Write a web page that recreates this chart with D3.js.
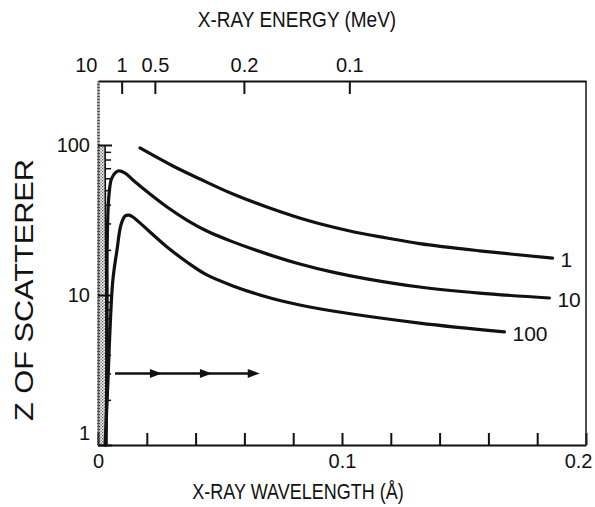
<!DOCTYPE html>
<html><head><meta charset="utf-8">
<script src="https://cdn.jsdelivr.net/npm/d3@7"></script>
<style>
html,body{margin:0;padding:0;background:#fff;}
svg{display:block;}
text{font-family:"Liberation Sans", Arial, Helvetica, sans-serif; fill:#111;}
</style></head><body>
<svg id="chart" width="595" height="507"></svg>
<script>
// ---------- data ----------
const bottomTickValues = [0, 0.02, 0.04, 0.06, 0.08, 0.1, 0.12, 0.14, 0.16, 0.18, 0.2];
const bottomLabelled = [0, 0.1, 0.2];
const leftTickValues = [1, 10, 100];
const leftMinorTicks = [2, 3, 4, 5, 6, 7, 8, 9, 20, 30, 40, 50, 60, 70, 80, 90];
const topTickLabels = ["10", "1", "0.5", "0.2", "0.1"];           // MeV
const topTickWavelengths = [0, 0.0097, 0.0233, 0.0598, 0.103];     // Å, as drawn

const curveNames = ["1", "10", "100"];
const curve1Lambda = [0.0172, 0.0307, 0.0418, 0.0553, 0.0692, 0.0868, 0.1032, 0.1183, 0.1318, 0.1564, 0.1863];
const curve1Z      = [95.5, 72.4, 59.3, 47.1, 38.6, 31.1, 26.7, 24.0, 22.0, 19.7, 17.6];
const curve10Lambda = [0.0033, 0.0037, 0.0038, 0.0045, 0.0057, 0.0082, 0.0111, 0.0143, 0.0213, 0.0283, 0.0364, 0.0446, 0.0553, 0.0692, 0.0827, 0.0962, 0.1101, 0.1318, 0.1564, 0.1850];
const curve10Z      = [1.0, 5.8, 23.3, 46.4, 60.3, 67.1, 65.0, 58.4, 47.1, 38.6, 31.6, 26.7, 22.6, 18.8, 16.1, 14.2, 12.8, 11.3, 10.3, 9.55];
const curve100Lambda = [0.0029, 0.0041, 0.0049, 0.0061, 0.0078, 0.0094, 0.0111, 0.0127, 0.0143, 0.0213, 0.0283, 0.0364, 0.0446, 0.0553, 0.0692, 0.0827, 0.0962, 0.1318, 0.1666];
const curve100Z      = [1.0, 2.7, 5.8, 12.6, 20.0, 29.3, 33.6, 34.1, 33.1, 26.3, 20.9, 16.6, 13.6, 11.5, 9.7, 8.58, 7.82, 6.5, 5.67];

const arrowZ = 3;
const arrowStart = 0.007;
const arrowHeads = [0.0262, 0.0467, 0.0663];
const bandLambda = 0.0029;   // shaded strip near zero wavelength
const bandTopZ = 100;

// ---------- scales ----------
const svg = d3.select("#chart");
const x = d3.scaleLinear().domain([0, 0.2]).range([98, 586]);
const y = d3.scaleLog().domain([1, 267]).range([445, 81]);
const xTop = d3.scaleLinear().domain([0, 0.2]).range([98, 586]);

// hatched pattern
const defs = svg.append("defs");
const pat = defs.append("pattern").attr("id", "hatch").attr("patternUnits", "userSpaceOnUse")
  .attr("width", 3).attr("height", 3);
pat.append("rect").attr("width", 3).attr("height", 3).attr("fill", "#fff");
pat.append("rect").attr("x", 0).attr("y", 0).attr("width", 1.3).attr("height", 1.3).attr("fill", "#555");
pat.append("rect").attr("x", 1.5).attr("y", 1.5).attr("width", 1.3).attr("height", 1.3).attr("fill", "#555");

// band
svg.append("rect")
  .attr("x", x(0)).attr("y", y(bandTopZ))
  .attr("width", x(bandLambda) - x(0)).attr("height", y(1) - y(bandTopZ))
  .attr("fill", "url(#hatch)");
svg.append("line")
  .attr("x1", x(bandLambda)).attr("x2", x(bandLambda + 0.0006))
  .attr("y1", y(bandTopZ)).attr("y2", y(1))
  .attr("stroke", "#111").attr("stroke-width", 1.6);

// minor ticks on left
svg.append("g").attr("transform", `translate(${x(bandLambda)},0)`)
  .call(d3.axisLeft(y).tickValues(leftMinorTicks).tickSizeInner(-6).tickSizeOuter(0).tickFormat(""))
  .call(g => g.select(".domain").remove())
  .call(g => g.selectAll("line").attr("stroke", "#111").attr("stroke-width", 1.5));

// bottom axis
svg.append("g").attr("transform", `translate(0,${y(1)})`)
  .call(d3.axisBottom(x).tickValues(bottomTickValues).tickSizeInner(-12).tickSizeOuter(0).tickPadding(9)
    .tickFormat(d => bottomLabelled.some(v => Math.abs(v - d) < 1e-9) ? (d === 0 ? "0" : d3.format(".1f")(d)) : ""))
  .call(g => g.select(".domain").attr("stroke", "#111").attr("stroke-width", 2.2))
  .call(g => g.selectAll("line").attr("stroke", "#111").attr("stroke-width", 2))
  .call(g => g.selectAll(".tick").filter(d => Math.abs(d - 0.2) < 1e-9).select("text")
    .attr("text-anchor", "end").attr("dx", "0.3em"))
  .call(g => g.selectAll("text").style("font-size", "20px").attr("fill", "#111"));

// top axis
svg.append("g").attr("transform", `translate(0,${y.range()[1]})`)
  .call(d3.axisTop(xTop).tickValues(topTickWavelengths).tickSizeInner(-13).tickSizeOuter(0).tickPadding(9)
    .tickFormat((d, i) => topTickLabels[i]))
  .call(g => g.select(".domain").attr("stroke", "#111").attr("stroke-width", 2.2))
  .call(g => g.selectAll(".tick line").attr("stroke", "#111").attr("stroke-width", 2))
  .call(g => g.selectAll(".tick").filter((d, i) => i === 0).select("line").remove())
  .call(g => g.selectAll(".tick").filter((d, i) => i === 0).select("text").attr("text-anchor", "end").attr("dx", "-1"))
  .call(g => g.selectAll("text").style("font-size", "20px").attr("fill", "#111"));

// left axis
svg.append("g").attr("transform", `translate(${x(0)},0)`)
  .call(d3.axisLeft(y).tickValues(leftTickValues).tickSizeInner(-14).tickSizeOuter(0).tickPadding(8)
    .tickFormat(d3.format("d")))
  .call(g => g.select(".domain").attr("stroke", "#444").attr("stroke-width", 2.6).attr("stroke-dasharray", "2,1"))
  .call(g => g.selectAll(".tick line").attr("stroke", "#111").attr("stroke-width", 2))
  .call(g => g.selectAll(".tick").filter(d => d === 1).select("text").attr("dy", "-0.3em"))
  .call(g => g.selectAll("text").style("font-size", "20px").attr("fill", "#111"));

// right frame
svg.append("line").attr("x1", x(0.2)).attr("x2", x(0.2)).attr("y1", y.range()[1]).attr("y2", y(1))
  .attr("stroke", "#222").attr("stroke-width", 1.6);

// curves
const line = d3.line().x(d => x(d[0])).y(d => y(d[1])).curve(d3.curveCatmullRom.alpha(0.5));
const curves = [
  { name: curveNames[0], pts: d3.zip(curve1Lambda, curve1Z) },
  { name: curveNames[1], pts: d3.zip(curve10Lambda, curve10Z) },
  { name: curveNames[2], pts: d3.zip(curve100Lambda, curve100Z) }
];
svg.append("g").selectAll("path").data(curves).join("path")
  .attr("d", d => line(d.pts))
  .attr("fill", "none").attr("stroke", "#111").attr("stroke-width", 3.2)
  .attr("stroke-linecap", "round").attr("stroke-linejoin", "round");

svg.append("g").selectAll("text").data(curves).join("text")
  .attr("x", d => x(d.pts[d.pts.length - 1][0]) + 8)
  .attr("y", d => y(d.pts[d.pts.length - 1][1]) + 9)
  .style("font-size", "21px")
  .text(d => d.name);

// arrow
svg.append("line")
  .attr("x1", x(arrowStart)).attr("x2", x(arrowHeads[arrowHeads.length - 1]) - 4)
  .attr("y1", y(arrowZ)).attr("y2", y(arrowZ))
  .attr("stroke", "#111").attr("stroke-width", 2.6);
svg.append("g").selectAll("path").data(arrowHeads).join("path")
  .attr("d", d => {
    const tx = x(d), ty = y(arrowZ);
    return `M${tx},${ty} L${tx - 12},${ty - 4.5} L${tx - 12},${ty + 4.5} Z`;
  })
  .attr("fill", "#111");

// titles
svg.append("text").attr("transform", "translate(297,27) scale(1,1.2)")
  .attr("text-anchor", "middle").style("font-size", "19px").text("X-RAY ENERGY (MeV)");
svg.append("text").attr("transform", "translate(298,499) scale(1,1.2)")
  .attr("text-anchor", "middle").style("font-size", "18px").text("X-RAY WAVELENGTH (Å)");
svg.append("text").attr("transform", "translate(33,290) rotate(-90)")
  .attr("text-anchor", "middle").style("font-size", "25px")
  .attr("textLength", 262).attr("lengthAdjust", "spacingAndGlyphs")
  .text("Z OF SCATTERER");
</script>
</body></html>
